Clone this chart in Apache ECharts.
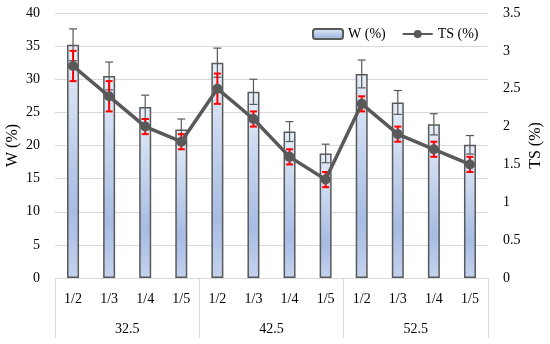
<!DOCTYPE html>
<html><head><meta charset="utf-8">
<script src="https://cdn.jsdelivr.net/npm/echarts@6/dist/echarts.min.js"></script>
<style>html,body{margin:0;padding:0;background:#fff}#c{width:550px;height:344px}</style>
</head><body><div id="c"></div>
<script>
const ratios = ['1/2','1/3','1/4','1/5','1/2','1/3','1/4','1/5','1/2','1/3','1/4','1/5'];
const groups = ['32.5','42.5','52.5'];
const wValues = [35.2,30.5,25.8,22.4, 32.5,28.1,22.1,18.8, 30.8,26.5,23.2,20.1];
const wErr    = [2.4,2.1,1.8,1.6, 2.2,1.9,1.5,1.4, 2.1,1.8,1.6,1.4];
const tsValues = [2.8,2.4,2.0,1.8, 2.5,2.1,1.6,1.3, 2.3,1.9,1.7,1.5];
const tsErr    = [0.2,0.2,0.1,0.1, 0.2,0.1,0.1,0.1, 0.1,0.1,0.1,0.1];
const wTicks = {min:0,max:40,interval:5};
const tsTicks = {min:0,max:3.5,interval:0.5};

const font = 'Liberation Serif';
const chart = echarts.init(document.getElementById('c'), null, {renderer:'canvas'});

function errRender(values, errs, color, lw, cap){
  return function(params, api){
    const i = params.dataIndex;
    const v = values[i], e = errs[i];
    const top = api.coord([i, v+e]);
    const bot = api.coord([i, v-e]);
    const x = top[0];
    const st = {stroke:color, lineWidth:lw};
    return {type:'group', children:[
      {type:'line', shape:{x1:x,y1:top[1],x2:x,y2:bot[1]}, style:st},
      {type:'line', shape:{x1:x-cap/2,y1:top[1],x2:x+cap/2,y2:top[1]}, style:st},
      {type:'line', shape:{x1:x-cap/2,y1:bot[1],x2:x+cap/2,y2:bot[1]}, style:st}
    ]};
  };
}

const barGrad = new echarts.graphic.LinearGradient(0,0,0,1,[
  {offset:0,color:'#e6eef9'},{offset:0.72,color:'#a7bce3'},{offset:1,color:'#c4d2ee'}]);

chart.setOption({
  animation:false,
  textStyle:{fontFamily:font},
  grid:{left:55,right:62,top:13,bottom:66,containLabel:false,outerBoundsMode:'none'},
  legend:{
    left:307, top:22, itemWidth:30, itemHeight:10, itemGap:16,
    textStyle:{fontFamily:font,fontSize:14,color:'#000'},
    data:[{name:'W (%)'},{name:'TS (%)'}]
  },
  xAxis:[
    {type:'category', data:ratios, position:'bottom',
     axisLine:{show:true,lineStyle:{color:'#d9d9d9',width:1}},
     axisTick:{show:false},
     axisLabel:{color:'#000',fontSize:14,fontFamily:font,margin:14}},
    {type:'category', data:groups, position:'bottom',
     axisLine:{show:false},
     axisTick:{show:true,length:60,lineStyle:{color:'#d9d9d9',width:1}},
     axisLabel:{color:'#000',fontSize:14,fontFamily:font,margin:44}}
  ],
  yAxis:[
    {type:'value', min:wTicks.min, max:wTicks.max, interval:wTicks.interval,
     name:'W (%)', nameLocation:'middle', nameGap:34, nameRotate:90, nameMoveOverlap:false,
     nameTextStyle:{color:'#000',fontSize:16,fontFamily:font},
     axisLine:{show:false}, axisTick:{show:false},
     axisLabel:{color:'#000',fontSize:14,fontFamily:font,margin:15},
     splitLine:{lineStyle:{color:'#d9d9d9',width:1}}},
    {type:'value', min:tsTicks.min, max:tsTicks.max, interval:tsTicks.interval,
     name:'TS (%)', nameLocation:'middle', nameGap:40, nameRotate:90, nameMoveOverlap:false,
     nameTextStyle:{color:'#000',fontSize:16,fontFamily:font},
     axisLine:{show:false}, axisTick:{show:false},
     axisLabel:{color:'#000',fontSize:14,fontFamily:font,margin:15},
     splitLine:{show:false}}
  ],
  series:[
    {name:'W (%)', type:'bar', data:wValues, xAxisIndex:0, yAxisIndex:0, barWidth:12, z:2,
     itemStyle:{color:barGrad, borderColor:'#595959', borderWidth:1.5}},
    {name:'Werr', type:'custom', xAxisIndex:0, yAxisIndex:0, z:3,
     renderItem:errRender(wValues,wErr,'#595959',1.2,8), data:wValues.map((v,i)=>[i,v])},
    {name:'TSerr', type:'custom', xAxisIndex:0, yAxisIndex:1, z:4,
     renderItem:errRender(tsValues,tsErr,'#ff0000',2,7), data:tsValues.map((v,i)=>[i,v])},
    {name:'TS (%)', type:'line', data:tsValues, xAxisIndex:0, yAxisIndex:1, z:5,
     symbol:'circle', symbolSize:10,
     lineStyle:{color:'#595959',width:3.5}, itemStyle:{color:'#595959'}}
  ]
});
</script></body></html>
